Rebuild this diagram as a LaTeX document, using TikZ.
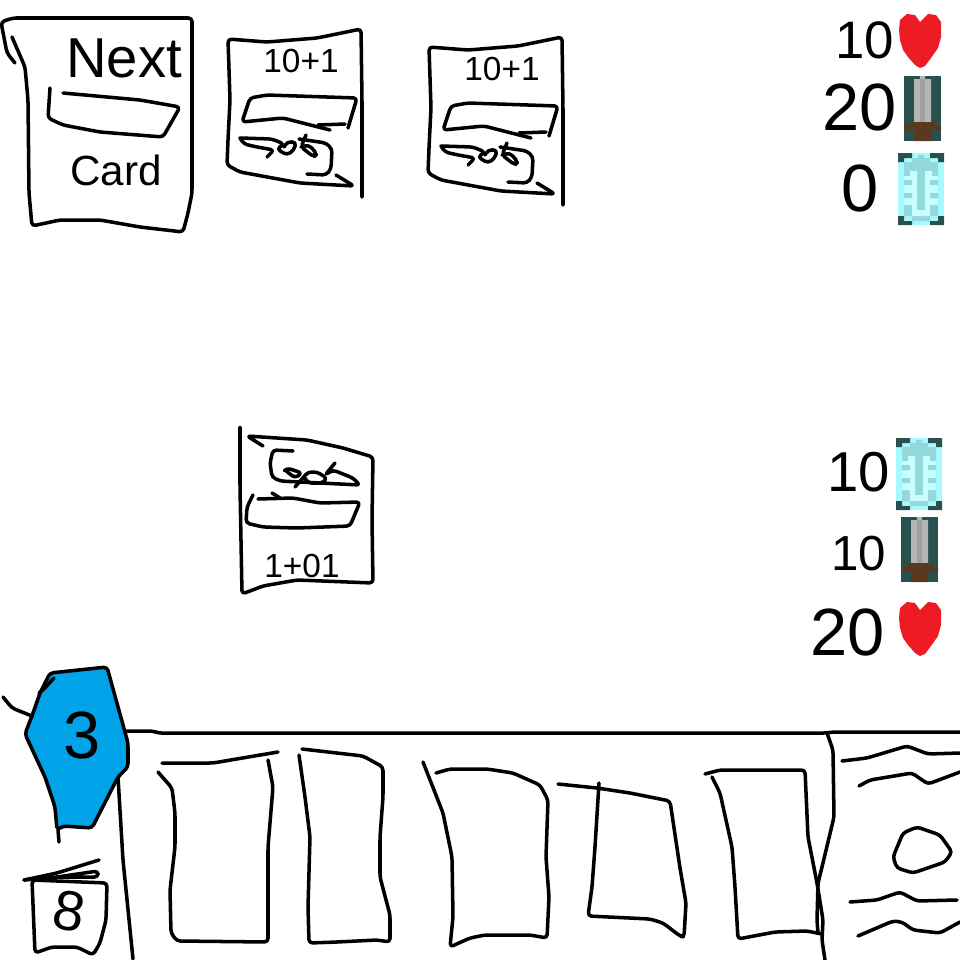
\documentclass[tikz,border=0pt]{standalone}
\usepackage{fontspec}
\setmainfont{Liberation Sans}

\definecolor{slate}{HTML}{2A4F4F}
\definecolor{bladeA}{HTML}{B5B5B5}
\definecolor{bladeB}{HTML}{A0A0A0}
\definecolor{hilt}{HTML}{5A3A1E}
\definecolor{iceA}{HTML}{A6FAFF}
\definecolor{iceB}{HTML}{93D8DA}
\definecolor{iceC}{HTML}{C8FEFF}
\definecolor{gemblue}{HTML}{00A2E8}
\definecolor{heartred}{HTML}{ED1C24}

\tikzset{
  ink/.style={draw=black,line width=1pt,line cap=round,line join=round,rounded corners=1pt},
  scrawl/.style={inner sep=0pt,font=\fontsize{#1}{#1}\selectfont},
  hearticon/.pic={
    \fill[heartred] (21,54) -- (16,51) -- (9,43) -- (4,36) -- (1,26) -- (0,16) -- (1,6) -- (8,0) -- (16,1)
      -- (21,8) -- (29,0) -- (37,1) -- (42,8) -- (42,23) -- (39,34) -- (32,44) -- (26,52) -- cycle;
  },
  swordicon/.pic={
    \fill[slate] (0,0) rectangle (37,65);
    \fill[bladeA] (10,3) rectangle (27,46) (16,0) rectangle (21,3);
    \fill[bladeB] (16,3) rectangle (21,46);
    \fill[hilt] (6,46) rectangle (31,50) (0,50) rectangle (37,54) (10,54) rectangle (27,65);
  },
  shieldicon/.pic={
    \fill[iceA] (0,0) rectangle (46,72);
    \fill[slate] (0,0) rectangle (14,5) (0,5) rectangle (6,9) (32,0) rectangle (46,5) (40,5) rectangle (46,9);
    \fill[slate] (0,63) rectangle (6,72) (6,68) rectangle (14,72) (40,63) rectangle (46,72) (32,68) rectangle (40,72);
    \fill[iceB] (6,9) rectangle (40,63) (14,5) rectangle (32,9) (14,63) rectangle (32,68) (20,2) rectangle (26,5);
    \fill[iceC] (12,18) rectangle (19,23) (6,23) rectangle (19,52) (27,18) rectangle (34,23) (27,23) rectangle (40,52);
    \fill[iceC] (14,52) rectangle (19,63) (27,52) rectangle (32,63) (19,57) rectangle (27,63);
    \fill[iceB] (6,27) rectangle (14,32) (6,40) rectangle (14,45) (32,27) rectangle (40,32) (32,40) rectangle (40,45);
  },
  enemycard/.pic={
    % outline
    \draw[ink] (362,197) -- (362,100) -- (361,29) -- (317,38) -- (267,42) -- (228,39) -- (230,100)
      -- (228,140) -- (227,165) -- (240,172) -- (300,183) -- (354,186) -- (336,175);
    % box
    \draw[ink] (348,128) -- (357,98) -- (267,95) -- (250,98) -- (242,122) -- (283,118) -- (330,130);
    \draw[ink] (318,125) -- (345,124);
    % scribble
    \draw[ink] (240,138) -- (244,144) -- (257,147) -- (274,150) -- (267,157);
    \draw[ink] (240,138) -- (272,139) -- (284,144) -- (277,149) -- (287,155) -- (294,150) -- (296,142) -- (287,142) -- (284,147);
    \draw[ink] (306,135) -- (301,147) -- (314,157) -- (317,154) -- (309,145) -- (301,147);
    \draw[ink] (299,139) -- (326,143) -- (332,149) -- (331,169) -- (326,175) -- (307,174);
    \node[scrawl=9.5] (cost) at (301,61) {10+1};
  }
}

\begin{document}
\begin{tikzpicture}[x=0.01cm,y=-0.01cm]
  \useasboundingbox (0,0) rectangle (960,960);

  % next card
  \draw[ink] (15,63) -- (7,53) -- (1,22) -- (13,18) -- (192,18) -- (192,100) -- (192,193) -- (188,213)
    -- (183,232) -- (140,227) -- (100,220) -- (60,220) -- (32,226) -- (29,193) -- (28,100) -- (25,67) -- (12,37);
  \draw[ink] (50,88) -- (48,118) -- (63,125) -- (100,132) -- (163,137) -- (180,107) -- (140,100) -- (63,93);
  \node[scrawl=16] (nextword) at (124,58) {Next};
  \node[scrawl=12] (cardword) at (116,170) {Card};

  % enemy cards
  \pic (cardA) at (0,0) {enemycard};
  \pic (cardB) at (201,8) {enemycard};

  % enemy stats
  \node[scrawl=15] (enemyhp) at (865,40) {10};
  \node[scrawl=19] (enemyatk) at (860,107) {20};
  \node[scrawl=19] (enemydef) at (860,188) {0};
  \pic at (899,14) {hearticon};
  \pic at (904,76) {swordicon};
  \pic at (898,153) {shieldicon};

  % played card
  \draw[ink] (240,427) -- (240,487) -- (242,594) -- (263,586) -- (297,580) -- (373,583) -- (372,520)
    -- (373,457) -- (343,448) -- (307,440) -- (247,436) -- (263,446);
  \draw[ink] (293,451) -- (273,450) -- (270,463) -- (272,477) -- (280,481) -- (360,485) -- (353,478)
    -- (333,470) -- (325,475) -- (335,463);
  \draw[ink] (285,470) -- (295,478) -- (302,473) -- (287,468) -- (285,470);
  \draw[ink] (295,487) -- (308,472) -- (317,472) -- (327,478) -- (323,483) -- (308,483) -- (305,478);
  \draw[ink] (253,495) -- (247,507) -- (246,523) -- (263,527) -- (297,528) -- (350,526) -- (360,502)
    -- (320,503) -- (293,498) -- (258,499);
  \draw[ink] (272,493) -- (280,498);
  \node[scrawl=9.5] (playcost) at (302,566) {1+01};

  % player stats
  \node[scrawl=16] (playerdef) at (859,472) {10};
  \node[scrawl=14] (playeratk) at (859,554) {10};
  \node[scrawl=19] (playerhp) at (848,632) {20};
  \pic at (896,438) {shieldicon};
  \pic at (901,517) {swordicon};
  \pic at (899,602) {hearticon};

  % hand tray
  \draw[ink] (122,731) -- (153,731) -- (158,733) -- (827,733) -- (832,732) -- (960,732);
  \draw[ink] (118,777) -- (123,860) -- (133,959);
  \draw[ink] (827,733) -- (833,750) -- (834,817) -- (822,867) -- (818,883) -- (817,920) -- (818,933);

  % mana gem
  \draw[ink,fill=gemblue] (50,673) -- (107,667) -- (128,743) -- (128,767) -- (118,777) -- (92,828)
    -- (63,826) -- (57,830) -- (55,807) -- (45,777) -- (25,734) -- (33,713) -- (40,693) -- cycle;
  \draw[ink] (58,830) -- (59,842);
  \draw[ink] (3,697) -- (12,708) -- (32,716);
  \draw[ink] (54,678) -- (43,690) -- (39,693);
  \node[scrawl=19] (gemcount) at (82,735) {3};

  % deck
  \draw[ink] (32,880) -- (107,883) -- (106,920) -- (100,943) -- (93,955) -- (77,947) -- (52,947) -- (35,953) -- cycle;
  \draw[ink] (24,880) -- (57,873) -- (99,860);
  \draw[ink] (24,880) -- (57,877) -- (98,871) -- (98,877) -- (57,877);
  \node[scrawl=16,rotate=-10] (deckcount) at (69,911) {8};

  % hand cards
  \draw[ink] (162,763) -- (213,763) -- (278,752);
  \draw[ink] (158,772) -- (172,788) -- (175,813) -- (175,847) -- (170,890) -- (171,933) -- (177,941)
    -- (268,942) -- (268,847) -- (273,787) -- (268,760);
  \draw[ink] (302,749) -- (363,756) -- (383,767) -- (383,797) -- (380,837) -- (380,877) -- (390,915)
    -- (390,942) -- (377,940) -- (337,942) -- (309,943) -- (308,907) -- (310,837) -- (305,797) -- (299,755);
  \draw[ink] (423,762) -- (443,813) -- (452,857) -- (453,917) -- (450,947) -- (470,938) -- (485,935)
    -- (530,935) -- (547,938) -- (549,897) -- (546,857) -- (548,800) -- (540,785) -- (513,773)
    -- (487,769) -- (450,769) -- (436,773);
  \draw[ink] (558,784) -- (597,788) -- (630,793) -- (670,801) -- (680,868) -- (686,903) -- (684,937)
    -- (680,936) -- (663,923) -- (650,919) -- (588,916) -- (592,887) -- (595,847) -- (599,783);
  \draw[ink] (705,774) -- (720,770) -- (805,770) -- (808,837) -- (817,883) -- (823,920) -- (822,940) -- (825,960);
  \draw[ink] (712,777) -- (720,793) -- (732,847) -- (735,887) -- (738,939) -- (775,932) -- (807,931) -- (822,934);

  % side panel
  \draw[ink] (842,761) -- (867,758) -- (907,746) -- (928,754) -- (960,753);
  \draw[ink] (859,786) -- (870,780) -- (912,773) -- (928,784) -- (960,772);
  \draw[ink] (893,857) -- (903,833) -- (917,827) -- (940,835) -- (952,852) -- (945,862) -- (913,873) -- (897,868) -- cycle;
  \draw[ink] (850,902) -- (877,900) -- (900,892) -- (917,901) -- (957,900);
  \draw[ink] (858,936) -- (893,921) -- (902,922) -- (913,930) -- (940,933) -- (960,922);
\end{tikzpicture}
\end{document}
